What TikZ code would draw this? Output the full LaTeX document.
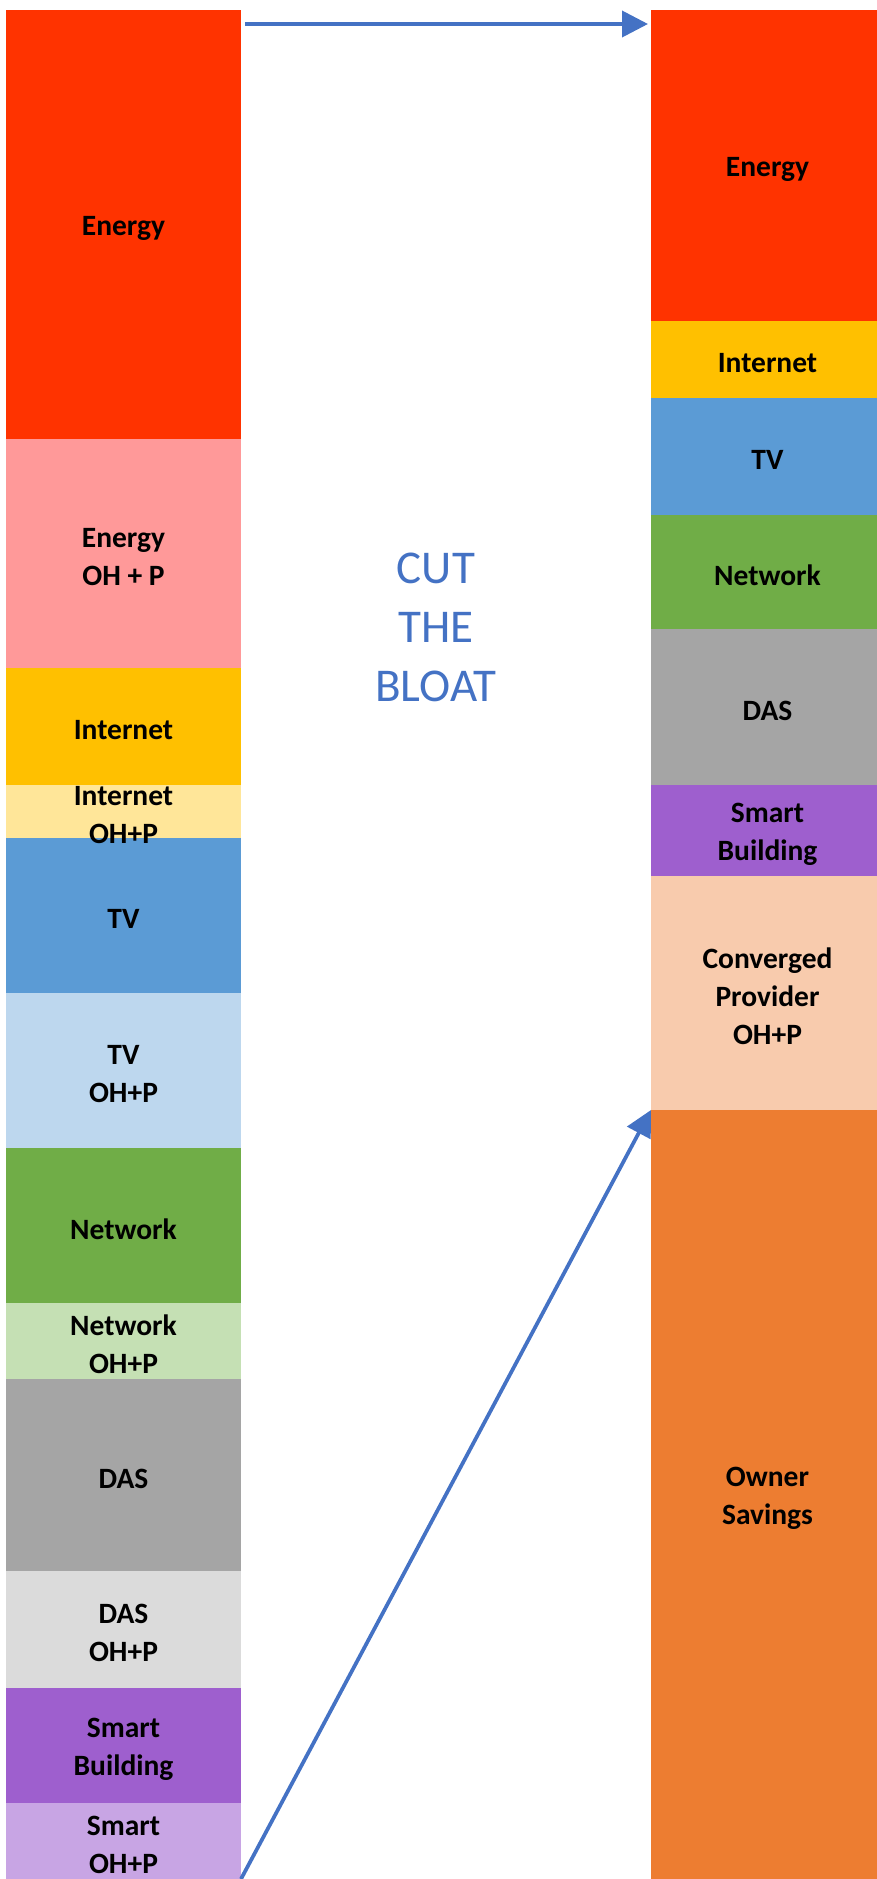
\documentclass[tikz,border=0pt]{standalone}
\usepackage{fontspec}
\setmainfont{Carlito}
\usetikzlibrary{arrows.meta}

% block colours
\definecolor{cEn}{HTML}{FF3300}
\definecolor{cEnO}{HTML}{FF9999}
\definecolor{cIn}{HTML}{FFC000}
\definecolor{cInO}{HTML}{FFE699}
\definecolor{cTv}{HTML}{5B9BD5}
\definecolor{cTvO}{HTML}{BDD7EE}
\definecolor{cNe}{HTML}{70AD47}
\definecolor{cNeO}{HTML}{C5E0B4}
\definecolor{cDa}{HTML}{A5A5A5}
\definecolor{cDaO}{HTML}{DBDBDB}
\definecolor{cSm}{HTML}{9E5FCE}
\definecolor{cSmO}{HTML}{C8A5E4}
\definecolor{cCo}{HTML}{F8CBAD}
\definecolor{cOw}{HTML}{ED7D31}
\definecolor{cArr}{HTML}{4472C4}

\tikzset{
  box/.style={anchor=north west, inner sep=0pt, outer sep=0pt, draw=none},
  lbox/.style={box, minimum width=235pt},
  rbox/.style={box, minimum width=233pt},
  lbl/.style={align=center, inner sep=0pt, yshift=-3.5pt, font=\fontsize{29.5}{38}\selectfont\bfseries, text=black},
  arr/.style={draw=cArr, line width=3.75pt, -{Triangle[length=26pt,width=26pt]}},
  slogan/.style={align=center, inner sep=0pt, font=\fontsize{47}{59}\selectfont, text=cArr}
}

\begin{document}
\begin{tikzpicture}[x=1pt, y=-1pt]
\useasboundingbox (0,0) rectangle (877,1879);
\begin{scope}
\clip (0,0) rectangle (877,1879);

% left column: services with their overhead and profit
\node[lbox, fill=cEn,  minimum height=429pt] (eL)  at (6,10)   {};
\node[lbox, fill=cEnO, minimum height=229pt] (eoL) at (6,439)  {};
\node[lbox, fill=cIn,  minimum height=117pt] (iL)  at (6,668)  {};
\node[lbox, fill=cInO, minimum height=53pt]  (ioL) at (6,785)  {};
\node[lbox, fill=cTv,  minimum height=155pt] (tL)  at (6,838)  {};
\node[lbox, fill=cTvO, minimum height=155pt] (toL) at (6,993)  {};
\node[lbox, fill=cNe,  minimum height=155pt] (nL)  at (6,1148) {};
\node[lbox, fill=cNeO, minimum height=76pt]  (noL) at (6,1303) {};
\node[lbox, fill=cDa,  minimum height=192pt] (dL)  at (6,1379) {};
\node[lbox, fill=cDaO, minimum height=117pt] (doL) at (6,1571) {};
\node[lbox, fill=cSm,  minimum height=115pt] (sL)  at (6,1688) {};
\node[lbox, fill=cSmO, minimum height=76pt]  (soL) at (6,1803) {};

\node[lbl] at (eL)  {Energy};
\node[lbl] at (eoL) {Energy\\OH + P};
\node[lbl] at (iL)  {Internet};
\node[lbl] at (ioL) {Internet\\OH+P};
\node[lbl] at (tL)  {TV};
\node[lbl] at (toL) {TV\\OH+P};
\node[lbl] at (nL)  {Network};
\node[lbl] at (noL) {Network\\OH+P};
\node[lbl] at (dL)  {DAS};
\node[lbl] at (doL) {DAS\\OH+P};
\node[lbl] at (sL)  {Smart\\Building};
\node[lbl] at (soL) {Smart\\OH+P};

% right column: converged provider
\node[rbox, fill=cEn, minimum height=311pt] (eR) at (651,10)   {};
\node[rbox, fill=cIn, minimum height=77pt]  (iR) at (651,321)  {};
\node[rbox, fill=cTv, minimum height=117pt] (tR) at (651,398)  {};
\node[rbox, fill=cNe, minimum height=114pt] (nR) at (651,515)  {};
\node[rbox, fill=cDa, minimum height=156pt] (dR) at (651,629)  {};
\node[rbox, fill=cSm, minimum height=91pt]  (sR) at (651,785)  {};
\node[rbox, fill=cCo, minimum height=234pt] (cR) at (651,876)  {};
\node[rbox, fill=cOw, minimum height=769pt] (oR) at (651,1110) {};

\node[lbl] at (eR) {Energy};
\node[lbl] at (iR) {Internet};
\node[lbl] at (tR) {TV};
\node[lbl] at (nR) {Network};
\node[lbl] at (dR) {DAS};
\node[lbl] at (sR) {Smart\\Building};
\node[lbl] at (cR) {Converged\\Provider\\OH+P};
\node[lbl] at (oR) {Owner\\Savings};

% slogan between the columns
\node[slogan] (cut) at (436,627) {CUT\\THE\\BLOAT};

% arrows
\draw[arr] ([shift={(4,14)}]eL.north east) -- ([shift={(-3,14)}]eR.north west);
\draw[arr] (soL.south east) -- (oR.north west);
\end{scope}
\end{tikzpicture}
\end{document}
